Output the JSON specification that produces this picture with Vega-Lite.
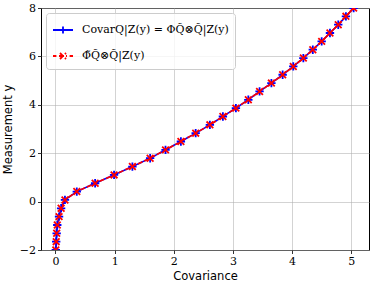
{
  "$schema": "https://vega.github.io/schema/vega-lite/v6.json",
  "width": 328,
  "height": 242,
  "autosize": {"type": "none"},
  "padding": {"left": 41, "top": 8, "right": 5, "bottom": 38},
  "config": {
    "view": {"stroke": "black", "strokeWidth": 1},
    "axis": {
      "grid": true, "gridColor": "#b0b0b0", "gridWidth": 0.8, "gridOpacity": 0.7,
      "domain": false, "tickColor": "black", "tickSize": 3.5, "tickWidth": 0.8,
      "labelFont": "DejaVu Serif", "labelFontSize": 11, "labelColor": "black",
      "titleFont": "DejaVu Sans", "titleFontSize": 11.5, "titleFontWeight": "normal", "titleColor": "black"
    }
  },
  "data": {"values": [
    {"y": -2.0, "a": 0.005, "b": 0.005},
    {"y": -1.655, "a": 0.012, "b": 0.012},
    {"y": -1.31, "a": 0.02, "b": 0.02},
    {"y": -0.966, "a": 0.03, "b": 0.03},
    {"y": -0.621, "a": 0.06, "b": 0.06},
    {"y": -0.276, "a": 0.095, "b": 0.095},
    {"y": 0.069, "a": 0.16, "b": 0.16},
    {"y": 0.414, "a": 0.36, "b": 0.36},
    {"y": 0.759, "a": 0.67, "b": 0.67},
    {"y": 1.103, "a": 0.99, "b": 0.99},
    {"y": 1.448, "a": 1.3, "b": 1.3},
    {"y": 1.793, "a": 1.6, "b": 1.6},
    {"y": 2.138, "a": 1.86, "b": 1.86},
    {"y": 2.483, "a": 2.12, "b": 2.12},
    {"y": 2.828, "a": 2.37, "b": 2.37},
    {"y": 3.172, "a": 2.61, "b": 2.61},
    {"y": 3.517, "a": 2.83, "b": 2.83},
    {"y": 3.862, "a": 3.05, "b": 3.05},
    {"y": 4.207, "a": 3.26, "b": 3.26},
    {"y": 4.552, "a": 3.45, "b": 3.45},
    {"y": 4.897, "a": 3.65, "b": 3.65},
    {"y": 5.241, "a": 3.84, "b": 3.84},
    {"y": 5.586, "a": 4.02, "b": 4.02},
    {"y": 5.931, "a": 4.19, "b": 4.19},
    {"y": 6.276, "a": 4.35, "b": 4.35},
    {"y": 6.621, "a": 4.5, "b": 4.5},
    {"y": 6.966, "a": 4.64, "b": 4.64},
    {"y": 7.31, "a": 4.78, "b": 4.78},
    {"y": 7.655, "a": 4.91, "b": 4.91},
    {"y": 8.0, "a": 5.04, "b": 5.04}
  ]},
  "transform": [{"fold": ["a", "b"], "as": ["s", "x"]}],
  "encoding": {
    "x": {"field": "x", "type": "quantitative", "title": "Covariance",
      "scale": {"domain": [-0.245, 5.3], "nice": false, "zero": false},
      "axis": {"values": [0, 1, 2, 3, 4, 5], "titlePadding": 4}},
    "y": {"field": "y", "type": "quantitative", "title": "Measurement y",
      "scale": {"domain": [-2, 8], "nice": false, "zero": false},
      "axis": {"values": [-2, 0, 2, 4, 6, 8], "titlePadding": 6}}
  },
  "layer": [
    {
      "mark": {"type": "line", "strokeWidth": 1.6, "clip": true},
      "encoding": {
        "order": {"field": "y", "type": "quantitative"},
        "color": {"field": "s", "type": "nominal",
          "scale": {"domain": ["a", "b"], "range": ["#0000ff", "#ff0000"]},
          "legend": {
            "title": null, "orient": "top-left", "offset": 5, "padding": 6,
            "fillColor": "rgba(255,255,255,0.8)", "strokeColor": "#cccccc", "cornerRadius": 3,
            "labelFont": "DejaVu Serif", "labelFontSize": 11, "labelColor": "black",
            "symbolSize": 400, "symbolStrokeWidth": 1.8, "rowPadding": 7, "labelOffset": 8,
            "labelExpr": "datum.value == 'a' ? 'CovarQ|Z(y) = ΦQ̃⊗Q̃|Z(y)' : 'Φ̃Q̃⊗Q̃|Z(y)'",
            "encode": {"symbols": {"update": {
              "shape": {"signal": "datum.value == 'a' ? 'M-1,0H1M0,-0.35V0.35' : 'M-1,0H-0.66M-0.4,0H0.4M0.66,0H1M-0.3,-0.3L0.3,0.3M-0.3,0.3L0.3,-0.3'"},
              "fill": {"value": "transparent"},
              "strokeDash": {"value": [1, 0]}
            }}}
          }},
        "strokeDash": {"field": "s", "type": "nominal",
          "scale": {"domain": ["a", "b"], "range": [[1, 0], [5, 2]]}, "legend": null}
      }
    },
    {
      "transform": [{"filter": "datum.s == 'a'"}],
      "mark": {"type": "point", "filled": false, "strokeWidth": 1.8, "opacity": 1, "clip": true,
        "color": "#0000ff", "shape": "M-1,0H1M0,-1V1", "size": 70}
    },
    {
      "transform": [{"filter": "datum.s == 'b'"}],
      "mark": {"type": "point", "filled": false, "strokeWidth": 1.8, "opacity": 1, "clip": true,
        "color": "#ff0000", "shape": "M-0.8,-0.8L0.8,0.8M-0.8,0.8L0.8,-0.8", "size": 70}
    }
  ]
}
